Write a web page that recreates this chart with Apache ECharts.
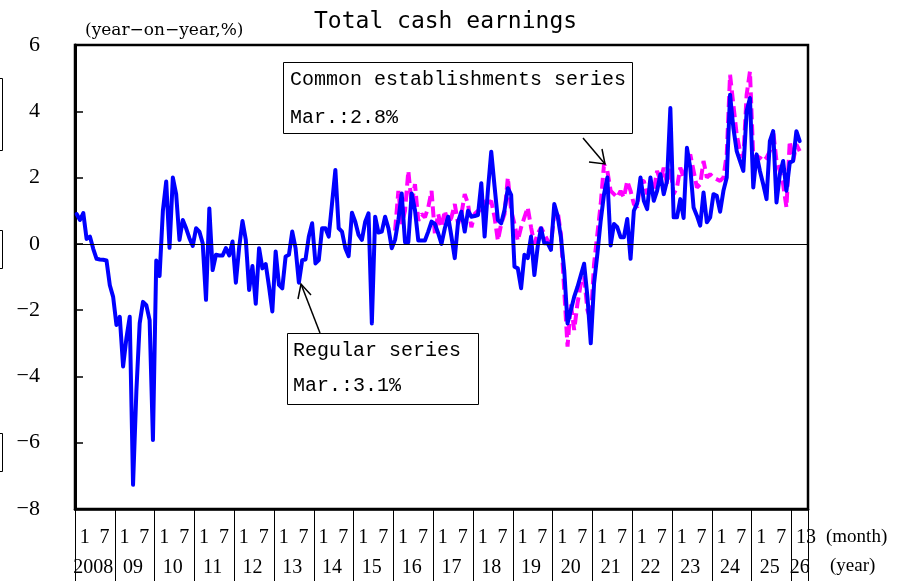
<!DOCTYPE html>
<html>
<head>
<meta charset="utf-8">
<title>Total cash earnings</title>
<script src="https://cdn.jsdelivr.net/npm/echarts@6/dist/echarts.min.js"></script>
<style>
  html, body { margin: 0; padding: 0; background: #ffffff; }
  #chart { width: 911px; height: 581px; }
</style>
</head>
<body>
<div id="chart"></div>
<script>
// Year labels shown under the month row
const yearLabels = ['2008', '09', '10', '11', '12', '13', '14', '15', '16', '17',
                    '18', '19', '20', '21', '22', '23', '24', '25', '26'];

// Regular series, year-on-year %, Jan 2008 - Mar 2026
const regular2008 = [0.9, 0.72, 0.93, 0.15, 0.22, -0.15, -0.45, -0.47, -0.48, -0.5, -1.25, -1.6];
const regular2009 = [-2.45, -2.2, -3.7, -2.85, -2.2, -7.27, -4.46, -2.4, -1.75, -1.85, -2.3, -5.92];
const regular2010 = [-0.5, -0.97, 1.0, 1.88, -0.12, 2.0, 1.5, 0.12, 0.72, 0.47, 0.17, -0.06];
const regular2011 = [0.47, 0.37, 0.02, -1.69, 1.07, -0.79, -0.33, -0.35, -0.35, -0.13, -0.35, 0.07];
const regular2012 = [-1.17, -0.1, 0.69, 0.12, -1.39, -0.67, -1.81, -0.13, -0.74, -0.61, -1.29, -2.04];
const regular2013 = [-0.23, -1.24, -1.34, -0.38, -0.33, 0.37, -0.13, -1.17, -0.49, -0.47, 0.22, 0.62];
const regular2014 = [-0.59, -0.49, 0.47, 0.47, 0.22, 1.22, 2.23, 0.47, 0.37, -0.13, -0.37, 0.94];
const regular2015 = [0.67, 0.27, 0.12, 0.67, 0.92, -2.4, 0.82, 0.34, 0.37, 0.82, 0.47, -0.13];
const regular2016 = [0.12, 0.72, 1.52, 0.05, 0.05, 1.52, 1.02, 0.1, 0.1, 0.1, 0.37, 0.67];
const regular2017 = [0.6, 0.32, 0.0, 0.47, 0.82, 0.22, -0.43, 0.67, 0.97, 0.37, 1.0, 0.82];
const regular2018 = [0.84, 0.87, 1.83, 0.22, 1.63, 2.78, 1.73, 0.72, 0.62, 1.02, 1.68, 1.48];
const regular2019 = [-0.69, -0.74, -1.34, -0.33, -0.43, 0.22, -0.94, -0.08, 0.47, 0.02, 0.02, -0.18];
const regular2020 = [1.2, 0.85, 0.2, -0.8, -2.4, -2.0, -1.6, -1.3, -0.95, -0.6, -1.6, -3.0];
const regular2021 = [-1.2, -0.3, 0.7, 1.5, 2.0, -0.05, 0.6, 0.5, 0.2, 0.2, 0.75, -0.45];
const regular2022 = [1.0, 1.22, 2.0, 1.3, 1.05, 2.0, 1.3, 1.6, 2.1, 1.5, 1.9, 4.1];
const regular2023 = [0.8, 0.8, 1.35, 0.78, 2.9, 2.3, 1.1, 0.85, 0.55, 1.55, 0.65, 0.8];
const regular2024 = [1.5, 1.45, 0.97, 1.6, 2.0, 4.5, 3.5, 2.8, 2.5, 2.2, 4.0, 4.4];
const regular2025 = [1.7, 2.7, 2.2, 1.8, 1.35, 3.1, 3.4, 1.25, 2.1, 2.5, 1.6, 2.45];
const regular2026 = [2.5, 3.4, 3.1];

// Common establishments series, year-on-year %, Jan 2016 - Mar 2026
const common2016 = [0.4, 1.6, 0.6, 1.0, 2.2, 1.2, 1.8, 0.7, 0.9, 0.8, 1.1, 1.6];
const common2017 = [0.3, 0.9, 0.5, 1.0, 0.6, 0.8, 1.2, 0.6, 0.9, 1.5, 1.2, 0.5];
const common2018 = [0.9, 1.0, 0.9, 1.3, 1.2, 1.3, 0.8, 0.1, 0.6, 0.9, 2.0, 1.0];
const common2019 = [0.6, 0.1, 0.5, 0.8, 1.1, 0.5, 0.0, 0.3, 0.5, 0.3, 0.1, 0.0];
const common2020 = [0.9, 1.0, 0.3, -1.4, -3.1, -1.8, -2.6, -1.8, -1.2, -1.0, -2.0, -2.3];
const common2021 = [-0.6, 0.3, 1.2, 2.4, 2.2, 1.6, 1.5, 1.4, 1.6, 1.4, 1.9, 1.6];
const common2022 = [1.2, 1.1, 1.9, 1.9, 1.5, 1.9, 1.6, 2.2, 1.9, 2.3, 1.8, 2.3];
const common2023 = [1.5, 1.7, 2.3, 2.0, 2.4, 2.7, 2.2, 1.7, 1.8, 2.5, 2.0, 2.1];
const common2024 = [2.0, 1.95, 1.9, 2.0, 2.7, 5.1, 4.2, 3.3, 2.8, 2.6, 4.5, 5.2];
const common2025 = [2.6, 2.65, 2.6, 2.5, 2.6, 2.8, 3.4, 2.5, 2.2, 1.8, 1.1, 3.1];
const common2026 = [2.5, 3.0, 2.8];

const regular = [].concat(regular2008, regular2009, regular2010, regular2011, regular2012,
  regular2013, regular2014, regular2015, regular2016, regular2017, regular2018, regular2019,
  regular2020, regular2021, regular2022, regular2023, regular2024, regular2025, regular2026);

// The common series starts in Jan 2016 (96 months after Jan 2008)
const commonLead = new Array(96).fill(null);
const common = commonLead.concat(common2016, common2017, common2018, common2019, common2020,
  common2021, common2022, common2023, common2024, common2025, common2026);

// Monthly categories, Jan 2008 through May 2026
const months = [];
for (let y = 2008; y <= 2026; y++) {
  for (let m = 1; m <= 12; m++) {
    if (months.length < 221) months.push(y + '-' + (m < 10 ? '0' + m : m));
  }
}

const serif = '"Liberation Serif", "DejaVu Serif", serif';
const mono = '"Liberation Mono", "DejaVu Sans Mono", monospace';

const chart = echarts.init(document.getElementById('chart'), null, { renderer: 'canvas' });

chart.setOption({
  animation: false,
  backgroundColor: '#ffffff',
  title: {
    text: 'Total cash earnings',
    left: 309,
    top: 6,
    textStyle: { fontFamily: '"DejaVu Sans Mono", monospace', fontSize: 23, fontWeight: 'normal', color: '#000' }
  },
  grid: {
    left: 75, right: 103, top: 45, bottom: 72,
    show: true, borderColor: '#000', borderWidth: 2.5, backgroundColor: 'transparent'
  },
  xAxis: [
    {
      type: 'category',
      data: months,
      boundaryGap: true,
      position: 'bottom',
      axisLine: { show: true, onZero: false, lineStyle: { color: '#000', width: 2.5 } },
      axisTick: {
        show: true,
        interval: function (i) { return i % 12 === 0; },
        length: 72,
        lineStyle: { color: '#000', width: 1 }
      },
      axisLabel: {
        // "1" marks January, "7" marks July; the last year only runs Jan-Mar
        interval: function (i) { return i % 12 === 0 || (i % 12 === 6 && i < 216); },
        formatter: function (v, i) {
          if (i === 216) return '13';
          return i % 12 === 0 ? '1' : (i % 12 === 6 ? '7' : '');
        },
        align: 'left',
        padding: [0, 0, 0, 3],
        margin: 19,
        color: '#000',
        fontFamily: serif,
        fontSize: 20
      },
      splitLine: { show: false }
    },
    {
      type: 'category',
      data: months,
      boundaryGap: true,
      position: 'bottom',
      axisLine: { show: false, onZero: false },
      axisTick: { show: false },
      axisLabel: {
        interval: function (i) { return (i % 12 === 5 && i < 216) || i === 218; },
        formatter: function (v, i) {
          if (i === 218) return '26';
          return yearLabels[Math.floor(i / 12)];
        },
        margin: 49,
        color: '#000',
        fontFamily: serif,
        fontSize: 20
      },
      splitLine: { show: false }
    }
  ],
  yAxis: {
    type: 'value',
    min: -8,
    max: 6,
    interval: 2,
    name: '(year\u2212on\u2212year,%)',
    nameLocation: 'end',
    nameGap: 6,
    nameTextStyle: {
      align: 'left', verticalAlign: 'bottom', padding: [0, 0, 0, 10],
      fontFamily: '"DejaVu Serif", serif', fontSize: 17, color: '#000'
    },
    axisLine: { show: true, onZero: false, lineStyle: { color: '#000', width: 3 } },
    axisTick: { show: true, inside: true, length: 8, lineStyle: { color: '#000', width: 1.5 } },
    axisLabel: {
      margin: 35,
      color: '#000',
      fontFamily: serif,
      fontSize: 22,
      formatter: function (v) { return String(v).replace('-', '\u2212'); }
    },
    splitLine: { show: false }
  },
  series: [
    {
      name: 'Common establishments series',
      type: 'line',
      xAxisIndex: 0,
      data: common,
      showSymbol: false,
      symbol: 'none',
      connectNulls: false,
      lineStyle: { color: '#ff00ff', width: 4, type: [11, 5] },
      z: 2
    },
    {
      name: 'Regular series',
      type: 'line',
      xAxisIndex: 0,
      data: regular,
      showSymbol: false,
      symbol: 'none',
      lineStyle: { color: '#0000ff', width: 4, join: 'round', cap: 'round' },
      z: 3,
      markLine: {
        silent: true,
        symbol: 'none',
        label: { show: false },
        lineStyle: { color: '#000', width: 1, type: 'solid' },
        data: [{ yAxis: 0 }]
      }
    }
  ],
  graphic: [
    // callout: common establishments series
    { type: 'rect', shape: { x: 283.5, y: 62.5, width: 349, height: 71 },
      style: { fill: '#fff', stroke: '#000', lineWidth: 1 }, z: 10 },
    { type: 'text', x: 290, y: 80, style: { text: 'Common establishments series', font: '20px ' + mono, fill: '#000', textVerticalAlign: 'middle' }, z: 11 },
    { type: 'text', x: 290, y: 118, style: { text: 'Mar.:2.8%', font: '20px ' + mono, fill: '#000', textVerticalAlign: 'middle' }, z: 11 },
    { type: 'line', shape: { x1: 583, y1: 138, x2: 605, y2: 164 }, style: { stroke: '#000', lineWidth: 1.5 }, z: 11 },
    { type: 'polyline', shape: { points: [[589, 162], [605, 164], [602, 149]] }, style: { stroke: '#000', lineWidth: 1.5, fill: null }, z: 11 },
    // callout: regular series
    { type: 'rect', shape: { x: 287.5, y: 333.5, width: 191, height: 71 },
      style: { fill: '#fff', stroke: '#000', lineWidth: 1 }, z: 10 },
    { type: 'text', x: 293, y: 351, style: { text: 'Regular series', font: '20px ' + mono, fill: '#000', textVerticalAlign: 'middle' }, z: 11 },
    { type: 'text', x: 293, y: 386, style: { text: 'Mar.:3.1%', font: '20px ' + mono, fill: '#000', textVerticalAlign: 'middle' }, z: 11 },
    { type: 'line', shape: { x1: 320, y1: 333, x2: 301, y2: 284 }, style: { stroke: '#000', lineWidth: 1.5 }, z: 11 },
    { type: 'polyline', shape: { points: [[298, 299], [301, 284], [311, 295]] }, style: { stroke: '#000', lineWidth: 1.5, fill: null }, z: 11 },
    // axis unit captions
    { type: 'text', x: 826, y: 537, style: { text: '(month)', font: '19px ' + serif, fill: '#000', textVerticalAlign: 'middle' } },
    { type: 'text', x: 830, y: 566, style: { text: '(year)', font: '19px ' + serif, fill: '#000', textVerticalAlign: 'middle' } },
    // edge brackets at the left margin
    { type: 'polyline', shape: { points: [[0, 78.5], [2.5, 78.5], [2.5, 150.5], [0, 150.5]] }, style: { stroke: '#000', lineWidth: 1, fill: null } },
    { type: 'polyline', shape: { points: [[0, 230.5], [2.5, 230.5], [2.5, 268.5], [0, 268.5]] }, style: { stroke: '#000', lineWidth: 1, fill: null } },
    { type: 'polyline', shape: { points: [[0, 433.5], [2.5, 433.5], [2.5, 471.5], [0, 471.5]] }, style: { stroke: '#000', lineWidth: 1, fill: null } }
  ]
});
</script>
</body>
</html>
